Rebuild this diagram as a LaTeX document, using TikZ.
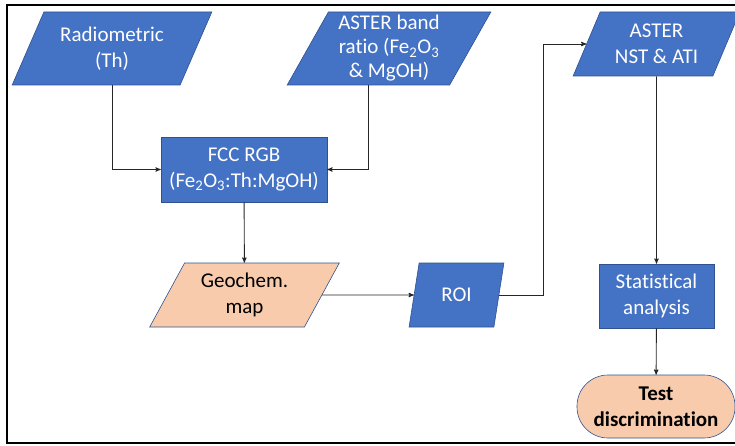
\documentclass[tikz,border=0pt]{standalone}
\usepackage{fontspec}
\setmainfont{Carlito}[Ligatures=NoCommon]
\usetikzlibrary{arrows,shapes.geometric}
\definecolor{boxblue}{HTML}{4472C4}
\definecolor{edgeblue}{HTML}{2F528F}
\definecolor{peach}{HTML}{F8CBAD}

\begin{document}
\begin{tikzpicture}[x=1pt,y=-1pt,->,>=stealth',line width=0.9pt,draw=black!85,
  base/.style={draw=edgeblue,line width=0.6pt,align=center,inner sep=0pt,
    font=\fontsize{21}{26}\selectfont},
  data node/.style={base,trapezium,trapezium left angle=#1,
    trapezium right angle={180-#1},trapezium stretches=true},
  blue node/.style={fill=boxblue,text=white},
  peach node/.style={fill=peach,text=black},
  proc node/.style={base,rectangle,blue node}]

  \useasboundingbox (0,0) rectangle (735,446);
  \draw[-,line width=2pt,black] (737,5) -- (7,5) -- (7,443) -- (737,443);

  \node[data node=61, blue node, minimum width=200pt, minimum height=73pt] (1) at (112,48.5) {Radiometric\\(Th)};
  \node[data node=62.5, blue node, minimum width=204pt, minimum height=73pt,
    font=\fontsize{21}{24}\selectfont] (2) at (389,48.5) {ASTER band\\ratio (Fe\textsubscript{2}O\textsubscript{3}\\\& MgOH)};
  \node[proc node, minimum width=166pt, minimum height=65pt] (3) at (244,169.5) {FCC RGB\\(Fe\textsubscript{2}O\textsubscript{3}:Th:MgOH)};
  \node[data node=60, peach node, minimum width=190pt, minimum height=64pt] (4) at (244.5,295) {Geochem.\\map};
  \node[data node=73.5, blue node, minimum width=95pt, minimum height=64pt] (5) at (456.5,295) {ROI};
  \node[data node=63.4, blue node, minimum width=167pt, minimum height=64pt] (6) at (656.5,44) {ASTER\\NST \& ATI};
  \node[proc node, minimum width=115pt, minimum height=64pt] (7) at (656.5,296) {Statistical\\analysis};
  \node[base, peach node, rectangle, rounded corners=31pt, minimum width=158pt, minimum height=63pt,
    font=\fontsize{21}{26}\selectfont\bfseries] (8) at (656,406.5) {Test\\discrimination};

  \draw (1.south) |- (3.west);
  \draw ([xshift=-21pt]2.south) |- (3.east);
  \draw (3) -- (4);
  \draw (4.east) -- (5.west);
  \draw (5.east) -- ++(44,0) |- (6.west);
  \draw (6) -- (7);
  \draw (7) -- (8);
\end{tikzpicture}
\end{document}
